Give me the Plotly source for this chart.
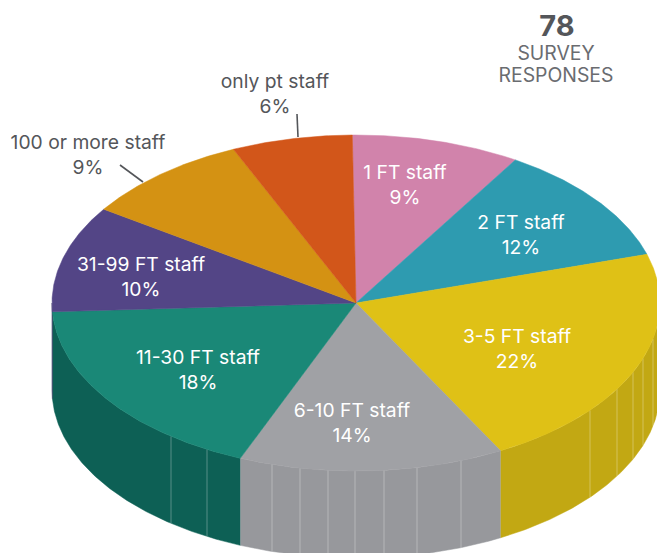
import math
import plotly.graph_objects as go

# --- data ---
categories = ["1 FT staff", "2 FT staff", "3-5 FT staff", "6-10 FT staff",
              "11-30 FT staff", "31-99 FT staff", "100 or more staff", "only pt staff"]
counts = [7, 9, 17, 11, 14, 8, 7, 5]
top_colors = ["#D183AB", "#2E9BB0", "#DFC116", "#A0A1A5",
              "#1A8877", "#534586", "#D49213", "#D2561A"]
wall_colors = ["#A86A8A", "#23798A", "#C2A813", "#97989C",
               "#0D6055", "#3E3465", "#A8740F", "#A84515"]
label_x = [405, 521, 517, 352, 198, 141, 88, 275]
label_y = [186.5, 236.5, 350.5, 424.5, 371.5, 278.5, 156.5, 95.5]
label_colors = ["white"] * 6 + ["#54565A"] * 2
responses = 78

# geometry of the tilted disc
CX, CY, RX, RY, DEPTH, START = 356, 303, 304, 168, 87, -0.7
W, H = 657, 553
SEAM_X = [171, 207, 272, 300, 328, 355, 384, 417, 461, 590, 617, 633, 643, 653]


def rim(t_deg, dy=0.0):
    t = math.radians(t_deg)
    return CX + RX * math.sin(t), CY - RY * math.cos(t) + dy


def arc(a, b, dy=0.0, step=0.5):
    n = max(2, int(abs(b - a) / step) + 1)
    pts = [rim(a + (b - a) * i / (n - 1), dy) for i in range(n)]
    return [p[0] for p in pts], [p[1] for p in pts]


def poly(xs, ys, color):
    return go.Scatter(x=xs, y=ys, mode="lines", fill="toself", fillcolor=color,
                      line=dict(color=color, width=0.5), hoverinfo="skip", showlegend=False)


fig = go.Figure()

# edges of slices, in degrees clockwise from top
total = sum(counts)
edges = [START]
for c in counts:
    edges.append(edges[-1] + c / total * 360)

# side walls (only the front half of the disc shows)
for i, c in enumerate(wall_colors):
    a, b = max(edges[i], 90), min(edges[i + 1], 270)
    if a >= b:
        continue
    x1, y1 = arc(a, b)
    x2, y2 = arc(b, a, DEPTH)
    fig.add_trace(poly(x1 + x2, y1 + y2, c))

# light seams on the wall
for sx in SEAM_X:
    s = (sx - CX) / RX
    t = math.degrees(math.pi - math.asin(s))
    x0, y0 = rim(t)
    x1, y1 = rim(t, DEPTH)
    fig.add_trace(go.Scatter(x=[x0, x1], y=[y0, y1], mode="lines",
                             line=dict(color="rgba(255,255,255,0.3)", width=1),
                             hoverinfo="skip", showlegend=False))

# top face
for i, c in enumerate(top_colors):
    xa, ya = arc(edges[i], edges[i + 1])
    fig.add_trace(poly([CX] + xa + [CX], [CY] + ya + [CY], c))

# leader lines
for pts in ([(297, 114), (298, 137)], [(120, 165), (143, 182)]):
    fig.add_trace(go.Scatter(x=[p[0] for p in pts], y=[p[1] for p in pts], mode="lines",
                             line=dict(color="#54565A", width=1.6),
                             hoverinfo="skip", showlegend=False))

# slice labels
fig.add_trace(go.Scatter(
    x=label_x, y=label_y, mode="text",
    text=[f"{n}<br>{round(c / total * 100)}%" for n, c in zip(categories, counts)],
    textposition="middle center",
    textfont=dict(family="Inter", size=19.3, color=label_colors),
    hoverinfo="skip", showlegend=False))

# header
fig.add_trace(go.Scatter(x=[557], y=[29], mode="text", text=[f"<b>{responses}</b>"],
                         textposition="middle center",
                         textfont=dict(family="Inter", size=29, color="#54565A"),
                         hoverinfo="skip", showlegend=False))
fig.add_trace(go.Scatter(x=[556, 556], y=[55, 77], mode="text", text=["SURVEY", "RESPONSES"],
                         textposition="middle center",
                         textfont=dict(family="Inter", size=19.4, color="#6A6C70"),
                         hoverinfo="skip", showlegend=False))

fig.update_layout(
    width=W, height=H, margin=dict(l=0, r=0, t=0, b=0),
    paper_bgcolor="white", plot_bgcolor="white", showlegend=False,
    xaxis=dict(range=[0, W], visible=False, fixedrange=True),
    yaxis=dict(range=[H, 0], visible=False, fixedrange=True),
)
fig.write_html("out.html", config={"displayModeBar": False},
               post_script="document.body.style.margin='0';")
